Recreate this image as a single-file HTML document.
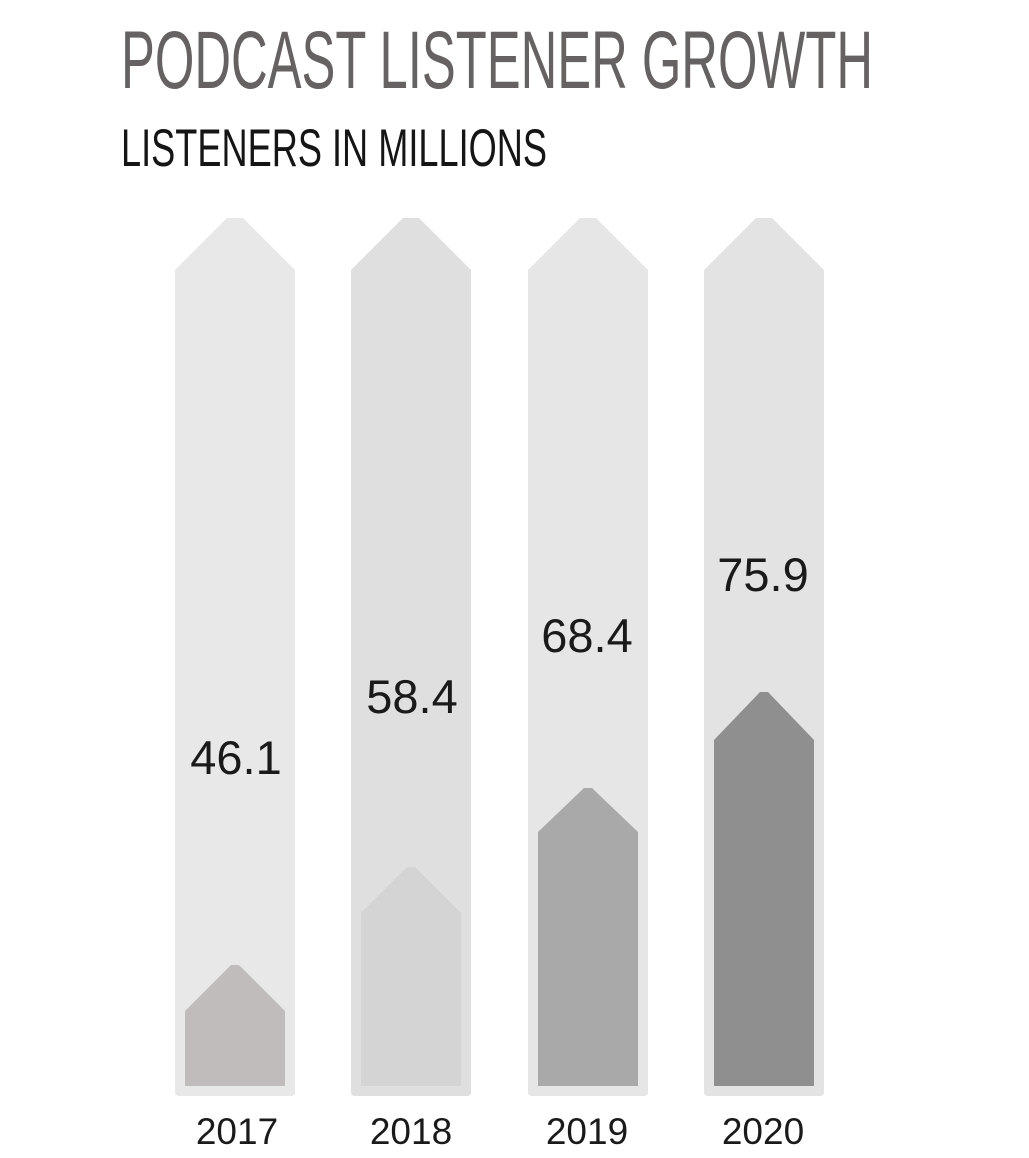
<!DOCTYPE html>
<html><head><meta charset="utf-8"><style>
html,body{margin:0;padding:0;background:#fff;}
svg{display:block;}
</style></head><body>
<svg width="1029" height="1158" viewBox="0 0 1029 1158" xmlns="http://www.w3.org/2000/svg" font-family="Liberation Sans, sans-serif">
<text x="121" y="88" font-size="82" fill="#666262" textLength="752" lengthAdjust="spacingAndGlyphs">PODCAST LISTENER GROWTH</text>
<text x="121" y="166" font-size="53" fill="#151515" textLength="426" lengthAdjust="spacingAndGlyphs">LISTENERS IN MILLIONS</text>

<path d="M175 270 L227 218 L243 218 L295 270 L295 1092 Q295 1096 291 1096 L179 1096 Q175 1096 175 1092 Z" fill="#e8e8e8"/>
<path d="M351 270 L403 218 L419 218 L471 270 L471 1092 Q471 1096 467 1096 L355 1096 Q351 1096 351 1092 Z" fill="#dfdfdf"/>
<path d="M528 270 L580 218 L596 218 L648 270 L648 1092 Q648 1096 644 1096 L532 1096 Q528 1096 528 1092 Z" fill="#e6e6e6"/>
<path d="M704 270 L756 218 L772 218 L824 270 L824 1092 Q824 1096 820 1096 L708 1096 Q704 1096 704 1092 Z" fill="#e3e3e3"/>

<path d="M185 1011 L231 965 L239 965 L285 1011 L285 1086 L185 1086 Z" fill="#c0bcbb"/>
<path d="M361 913 L407 867 L415 867 L461 913 L461 1086 L361 1086 Z" fill="#d4d4d4"/>
<path d="M538 832 L584 788 L592 788 L638 832 L638 1086 L538 1086 Z" fill="#a9a9a9"/>
<path d="M714 740 L760 692 L768 692 L814 740 L814 1086 L714 1086 Z" fill="#8f8f8f"/>

<g font-size="47" fill="#1a1a1a" text-anchor="middle">
<text x="236" y="774">46.1</text>
<text x="412" y="713">58.4</text>
<text x="587" y="652">68.4</text>
<text x="763" y="591">75.9</text>
</g>
<g font-size="37" fill="#1a1a1a" text-anchor="middle">
<text x="237" y="1144">2017</text>
<text x="411" y="1144">2018</text>
<text x="587" y="1144">2019</text>
<text x="763" y="1144">2020</text>
</g>
</svg>
</body></html>
